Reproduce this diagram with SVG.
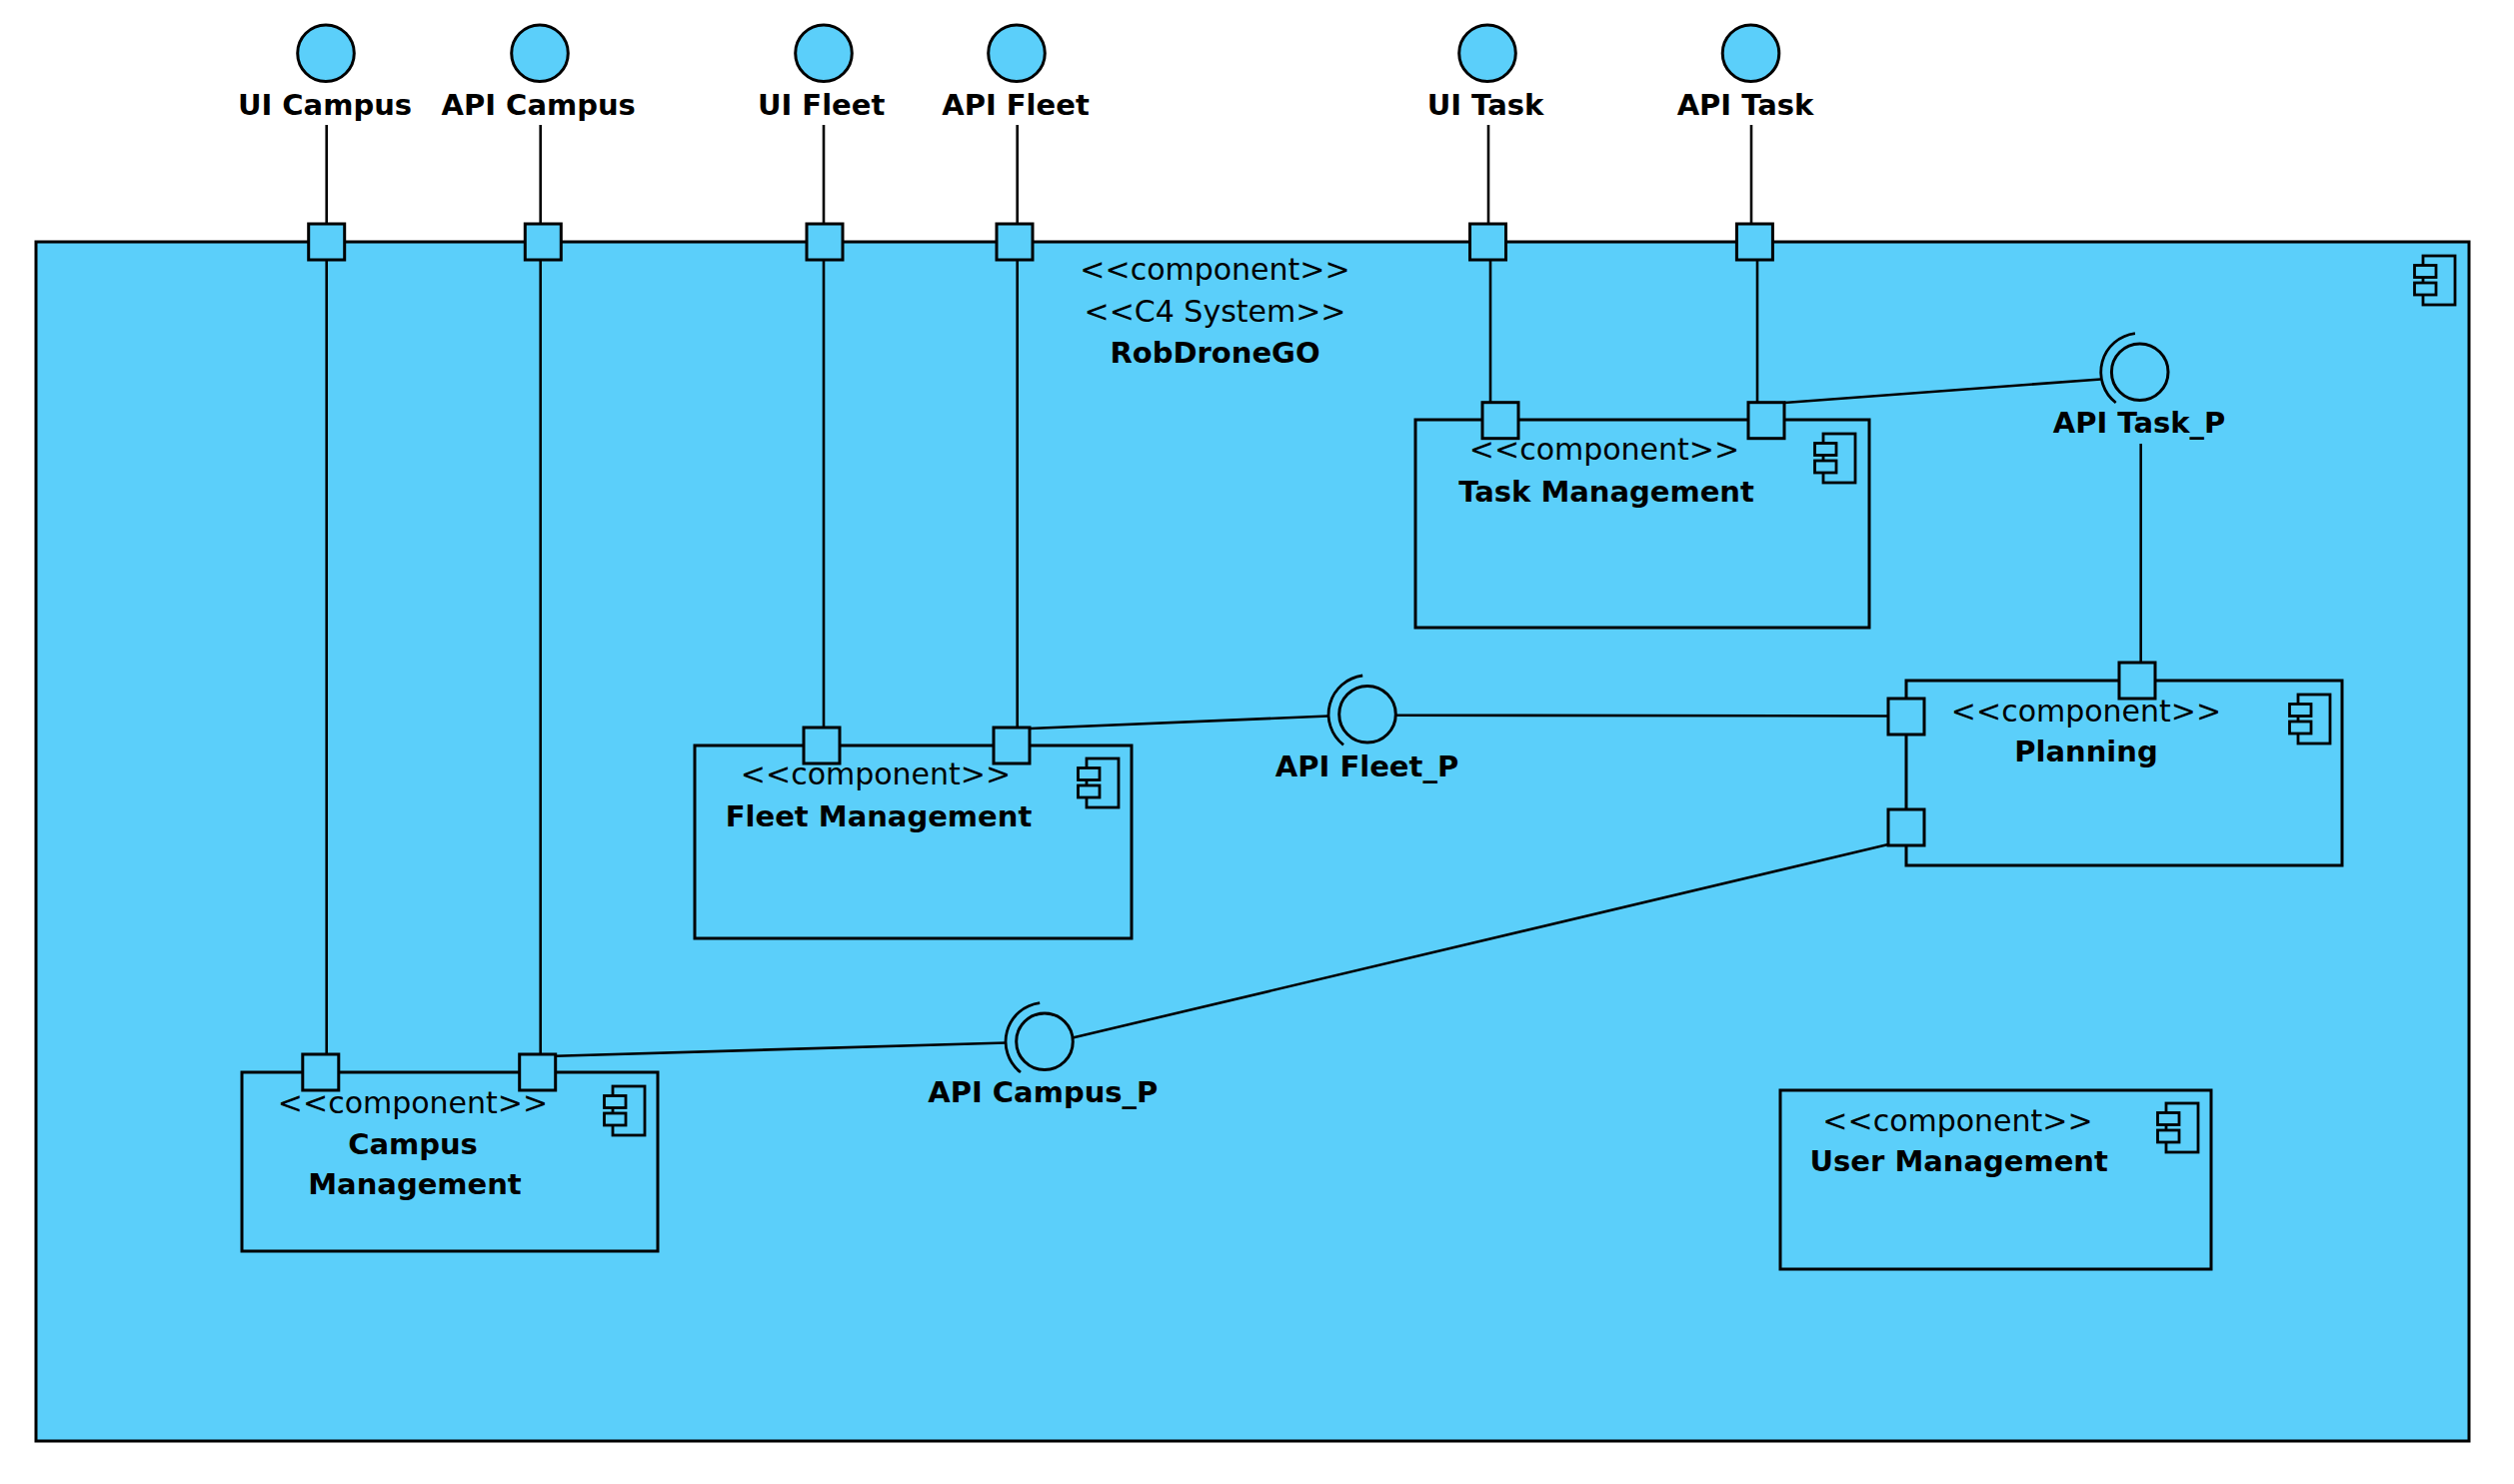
<svg xmlns="http://www.w3.org/2000/svg" width="2515" height="1485" viewBox="0 0 2515 1485">
<style>
.box{fill:#5BCFFA;stroke:#000;stroke-width:3}
.port{fill:#5BCFFA;stroke:#000;stroke-width:3}
.ico{fill:#5BCFFA;stroke:#000;stroke-width:2.8}
.ln{fill:none;stroke:#000;stroke-width:2.6}
.sock{fill:none;stroke:#000;stroke-width:2.8}
.st{font-family:"DejaVu Sans","Liberation Sans",sans-serif;font-size:30px;fill:#000;text-anchor:middle}
.nm{font-family:"DejaVu Sans","Liberation Sans",sans-serif;font-size:29px;font-weight:bold;fill:#000;text-anchor:middle}
</style>
<defs>
<g id="cicon">
<rect class="ico" x="0" y="0" width="32" height="49"/>
<rect class="ico" x="-8.5" y="9.5" width="21.5" height="12"/>
<rect class="ico" x="-8.5" y="27" width="21.5" height="12"/>
</g>
</defs>
<rect width="2515" height="1485" fill="#fff"/>

<g id="system">
<rect class="box" x="36" y="242" width="2434" height="1200"/>
<use href="#cicon" x="2424" y="256"/>
<text class="st" x="1215.5" y="280">&lt;&lt;component&gt;&gt;</text>
<text class="st" x="1215.5" y="321.7">&lt;&lt;C4 System&gt;&gt;</text>
<text class="nm" x="1215.5" y="363.3">RobDroneGO</text>
</g>

<g id="connectors">
<line class="ln" x1="326.7" y1="125" x2="326.7" y2="224"/>
<line class="ln" x1="540.7" y1="125" x2="540.7" y2="224"/>
<line class="ln" x1="824" y1="125" x2="824" y2="224"/>
<line class="ln" x1="1017.7" y1="125" x2="1017.7" y2="224"/>
<line class="ln" x1="1489" y1="125" x2="1489" y2="224"/>
<line class="ln" x1="1752" y1="125" x2="1752" y2="224"/>
<line class="ln" x1="326.7" y1="260" x2="326.7" y2="1055"/>
<line class="ln" x1="540.7" y1="260" x2="540.7" y2="1055"/>
<line class="ln" x1="824" y1="260" x2="824" y2="728"/>
<line class="ln" x1="1017.7" y1="260" x2="1017.7" y2="728"/>
<line class="ln" x1="1491" y1="260" x2="1491" y2="403"/>
<line class="ln" x1="1758" y1="260" x2="1758" y2="403"/>
<line class="ln" x1="1785" y1="403" x2="2101.7" y2="379.5"/>
<line class="ln" x1="2141.7" y1="444" x2="2141.7" y2="663"/>
<line class="ln" x1="1030" y1="729" x2="1329" y2="716.5"/>
<line class="ln" x1="1396" y1="715.7" x2="1889" y2="716.5"/>
<line class="ln" x1="556" y1="1056.7" x2="1006.7" y2="1043.5"/>
<line class="ln" x1="1073" y1="1038.5" x2="1889" y2="845"/>
</g>

<g id="ports">
<rect class="port" x="308.7" y="224" width="36" height="36"/>
<rect class="port" x="525.3" y="224" width="36" height="36"/>
<rect class="port" x="807" y="224" width="36" height="36"/>
<rect class="port" x="997" y="224" width="36" height="36"/>
<rect class="port" x="1470.5" y="224" width="36" height="36"/>
<rect class="port" x="1737.4" y="224" width="36" height="36"/>
</g>

<g id="if-ui-campus">
<circle class="box" cx="326" cy="53.3" r="28.3"/>
<text class="nm" x="325" y="115">UI Campus</text>
</g>
<g id="if-api-campus">
<circle class="box" cx="540" cy="53.3" r="28.3"/>
<text class="nm" x="538.7" y="115">API Campus</text>
</g>
<g id="if-ui-fleet">
<circle class="box" cx="824" cy="53.3" r="28.3"/>
<text class="nm" x="821.6" y="115">UI Fleet</text>
</g>
<g id="if-api-fleet">
<circle class="box" cx="1017" cy="53.3" r="28.3"/>
<text class="nm" x="1016" y="115">API Fleet</text>
</g>
<g id="if-ui-task">
<circle class="box" cx="1488" cy="53.3" r="28.3"/>
<text class="nm" x="1486" y="115">UI Task</text>
</g>
<g id="if-api-task">
<circle class="box" cx="1751.5" cy="53.3" r="28.3"/>
<text class="nm" x="1746" y="115">API Task</text>
</g>

<g id="task-management">
<rect class="box" x="1416" y="420" width="454" height="208"/>
<use href="#cicon" x="1824" y="434"/>
<rect class="port" x="1483" y="402.7" width="36" height="36"/>
<rect class="port" x="1749" y="402.7" width="36" height="36"/>
<text class="st" x="1605" y="459.5">&lt;&lt;component&gt;&gt;</text>
<text class="nm" x="1607" y="501.5">Task Management</text>
</g>

<g id="planning">
<rect class="box" x="1907" y="681" width="436" height="185"/>
<use href="#cicon" x="2299" y="695"/>
<rect class="port" x="2120" y="663" width="36" height="36"/>
<rect class="port" x="1889" y="699" width="36" height="36"/>
<rect class="port" x="1889" y="810" width="36" height="36"/>
<text class="st" x="2087" y="721.5">&lt;&lt;component&gt;&gt;</text>
<text class="nm" x="2087" y="761.5">Planning</text>
</g>

<g id="fleet-management">
<rect class="box" x="695" y="746" width="437" height="193"/>
<use href="#cicon" x="1087" y="759"/>
<rect class="port" x="804" y="728" width="36" height="36"/>
<rect class="port" x="994" y="728" width="36" height="36"/>
<text class="st" x="876" y="785">&lt;&lt;component&gt;&gt;</text>
<text class="nm" x="879" y="826.5">Fleet Management</text>
</g>

<g id="campus-management">
<rect class="box" x="242" y="1073" width="416" height="179"/>
<use href="#cicon" x="613" y="1087"/>
<rect class="port" x="302.8" y="1055" width="36" height="36"/>
<rect class="port" x="519.7" y="1055" width="36" height="36"/>
<text class="st" x="413" y="1113.5">&lt;&lt;component&gt;&gt;</text>
<text class="nm" x="413" y="1154.5">Campus</text>
<text class="nm" x="415" y="1194.5">Management</text>
</g>

<g id="user-management">
<rect class="box" x="1781" y="1091" width="431" height="179"/>
<use href="#cicon" x="2167" y="1104"/>
<text class="st" x="1958.5" y="1131.5">&lt;&lt;component&gt;&gt;</text>
<text class="nm" x="1959.7" y="1171.5">User Management</text>
</g>

<g id="api-task-p">
<circle class="box" cx="2140.7" cy="372.3" r="28.3"/>
<path class="sock" d="M2135.9,333.6 A39,39 0 0 0 2116.7,403"/>
<text class="nm" x="2140" y="433.3">API Task_P</text>
</g>

<g id="api-fleet-p">
<circle class="box" cx="1368" cy="714.7" r="28.3"/>
<path class="sock" d="M1363.2,676 A39,39 0 0 0 1344,745.4"/>
<text class="nm" x="1367.5" y="776.7">API Fleet_P</text>
</g>

<g id="api-campus-p">
<circle class="box" cx="1045" cy="1042.3" r="28.3"/>
<path class="sock" d="M1040.2,1003.6 A39,39 0 0 0 1021,1073"/>
<text class="nm" x="1043.3" y="1103.3">API Campus_P</text>
</g>
</svg>
